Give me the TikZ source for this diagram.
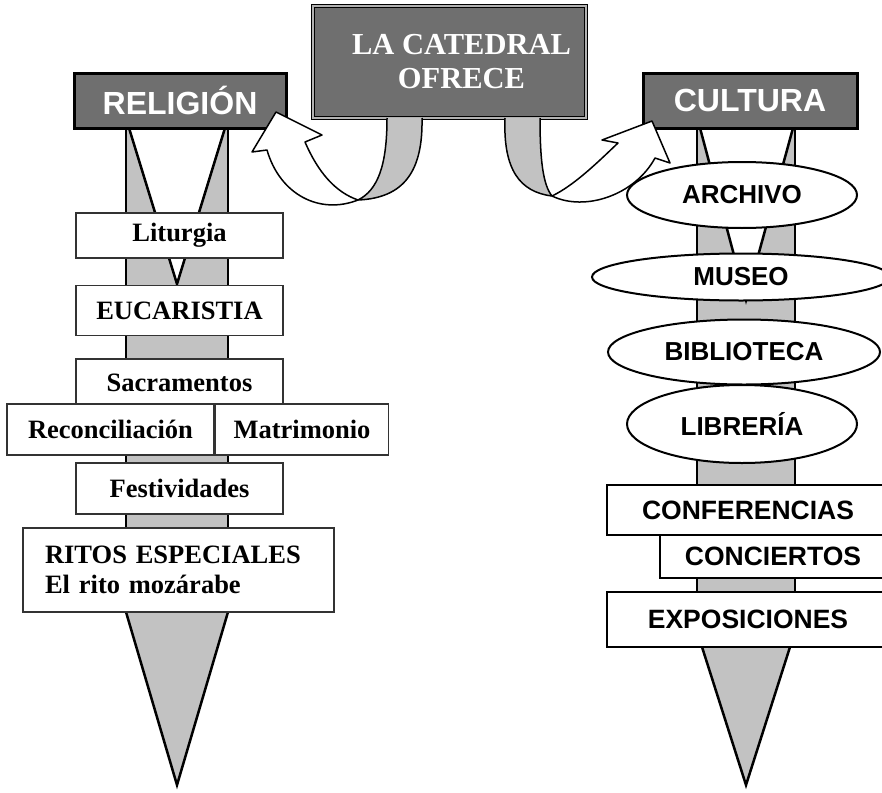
\documentclass[tikz,border=0pt]{standalone}
\usepackage{fontspec}
\setmainfont{Liberation Serif}
\setsansfont{Liberation Sans}
\usetikzlibrary{positioning,shapes.geometric}

\definecolor{headgray}{HTML}{6F6F6F}
\definecolor{polegray}{HTML}{C2C2C2}

\begin{document}
\begin{tikzpicture}[x=1pt, y=-1pt,
        every node/.style = {inner sep=0pt},
        header/.style = {shape=rectangle, draw=black, fill=headgray, line width=3pt,
                         text=white, font=\fontsize{32}{36}\selectfont\sffamily\bfseries},
        catbox/.style = {shape=rectangle, draw=black, double=gray!60, double distance=1.2pt,
                         line width=1.3pt, fill=headgray, text=white, align=center,
                         font=\fontsize{30.5}{34}\selectfont\bfseries},
        relbox/.style = {shape=rectangle, draw=black!80, fill=white, line width=1.5pt,
                         minimum width=207pt, font=\fontsize{26.5}{30}\selectfont\bfseries},
        culbox/.style = {shape=rectangle, draw=black, fill=white, line width=2.5pt,
                         font=\fontsize{26.5}{30}\selectfont\sffamily\bfseries},
        culoval/.style = {shape=ellipse, draw=black, fill=white, line width=2pt,
                          font=\fontsize{26}{30}\selectfont\sffamily\bfseries},
        poleside/.style = {draw=black, line width=2.5pt},
        ribbon/.style = {draw=black, line width=1.5pt, line join=round}]
    \useasboundingbox (0,0) rectangle (882,792);
    \clip (0,0) rectangle (882,792);

    \fill[polegray] (126,128) rectangle (228,612);
    \draw[poleside] (126,128) -- (126,612) (228,128) -- (228,612);
    \filldraw[poleside, fill=white] (129,128) -- (177,284) -- (225,128);
    \filldraw[poleside, fill=polegray] (126,612) -- (177,785) -- (228,612);

    \fill[polegray] (697,128) rectangle (795,647);
    \draw[poleside] (697,128) -- (697,647) (795,128) -- (795,647);
    \filldraw[poleside, fill=white] (700,128) -- (746,300) -- (793,128);
    \filldraw[poleside, fill=polegray] (702,647) -- (746,785) -- (790,647);

    \node[header, minimum width=212pt, minimum height=55pt] (religion) at (180,100.5) {RELIGIÓN};
    \node[header, minimum width=214pt, minimum height=55pt] (cultura) at (750,100.5) {CULTURA};
    \node[catbox, minimum width=273pt, minimum height=112pt] (catedral) at (449.5,62)
        {\hspace*{24pt}LA CATEDRAL\\\hspace*{24pt}OFRECE};

    \filldraw[ribbon, fill=polegray] (422,118) .. controls (423,170) and (405,198) .. (358,200)
        .. controls (378,190) and (387,165) .. (387,118);
    \filldraw[ribbon, fill=white] (358,200) .. controls (320,215) and (280,195) .. (267,150)
        -- (252,152) -- (276,112) -- (322,135) -- (305,142)
        .. controls (318,172) and (335,192) .. cycle;
    \filldraw[ribbon, fill=polegray] (505,118) .. controls (503,170) and (520,192) .. (552,196)
        .. controls (543,185) and (540,160) .. (540,118);
    \filldraw[ribbon, fill=white] (552,196) .. controls (585,212) and (635,195) .. (655,158)
        -- (670,163) -- (652,121) -- (602,140) -- (618,143)
        .. controls (600,160) and (575,185) .. cycle;

    \node[relbox, minimum height=45pt] (liturgia) at (179.5,235.5) {Liturgia};
    \node[relbox, minimum height=50pt, below=26pt of liturgia] (eucaristia) {EUCARISTIA};
    \node[relbox, minimum height=47pt, below=22pt of eucaristia] (sacramentos) {Sacramentos};
    \node[relbox, minimum height=51pt] (reconciliacion) at (110.5,429.5) {Reconciliación};
    \node[relbox, minimum height=51pt, minimum width=173pt, right=0pt of reconciliacion] (matrimonio) {Matrimonio};
    \node[relbox, minimum height=51pt] (festividades) at (179.5,488.5) {Festividades};
    \node[relbox, minimum height=84pt, minimum width=311pt, text width=267pt, align=left] (ritos) at (178.5,570)
        {RITOS ESPECIALES\\El rito mozárabe};

    \node[culoval, minimum width=230pt, minimum height=66pt] (archivo) at (742,195) {ARCHIVO};
    \node[culoval, minimum width=298pt, minimum height=47pt] (museo) at (741,277) {MUSEO};
    \node[culoval, minimum width=272pt, minimum height=65pt] (biblioteca) at (744,352) {BIBLIOTECA};
    \node[culoval, minimum width=230pt, minimum height=78pt] (libreria) at (742,424) {LIBRERÍA};

    \node[culbox, minimum width=282pt, minimum height=50pt] (conferencias) at (748,510) {CONFERENCIAS};
    \node[culbox, minimum width=226pt, minimum height=43pt] (conciertos) at (773,556.5) {CONCIERTOS};
    \node[culbox, minimum width=282pt, minimum height=55pt] (exposiciones) at (748,619.5) {EXPOSICIONES};
\end{tikzpicture}
\end{document}
